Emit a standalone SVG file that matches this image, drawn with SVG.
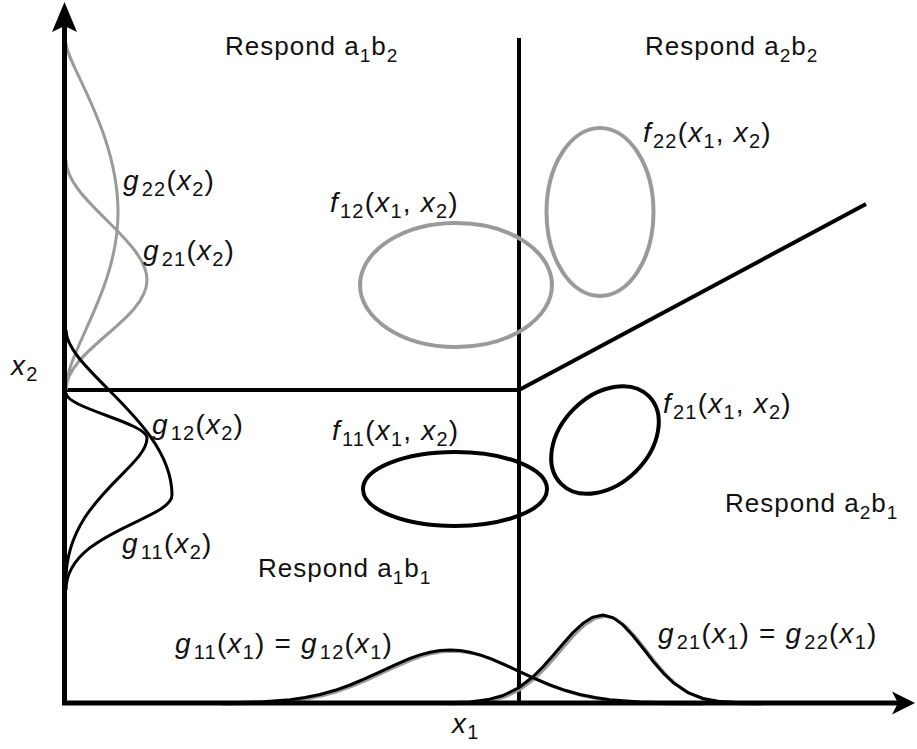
<svg xmlns="http://www.w3.org/2000/svg" width="917" height="749" viewBox="0 0 917 749">
<style>
text{font-family:"Liberation Sans",Arial,sans-serif;fill:#111}
.r{font-size:26px;letter-spacing:1px}
.m{font-size:28px;letter-spacing:1.2px}
.i{font-style:italic}
.s{font-size:20px}
.r .s{font-size:19px}
.ax{stroke:#000;stroke-width:5;fill:none}
.ln{stroke:#000;stroke-width:4;fill:none}
.k{stroke:#000;stroke-width:3;fill:none;stroke-linejoin:round}
.g{stroke:#9a9a9a;stroke-width:3;fill:none;stroke-linejoin:round}
.eg{stroke:#9a9a9a;stroke-width:4;fill:none}
.ek{stroke:#000;stroke-width:4;fill:none}
</style>
<rect width="917" height="749" fill="#fff"/>

<g id="connectors">
  <line class="ln" x1="519" y1="38" x2="519" y2="703"/>
  <line class="ln" x1="64" y1="390" x2="519" y2="390"/>
  <line class="ln" x1="519" y1="390" x2="866" y2="204" stroke-width="3.5"/>
</g>

<g id="dist-x2">
  <path class="g" d="M66,43 C66,63 118,132 118,212 C118,292 66,350 66,390"/>
  <path class="g" d="M66,160 C66,200 147,240 147,280 C147,320 66,350 66,390"/>
  <path class="k" d="M66,393 C66,408 147,423 147,438 C147,468 66,500 66,580"/>
  <path class="k" d="M66,330 C66,370 172,422 172,495 C172,520 66,532 66,590"/>
</g>

<g id="dist-x1">
  <g transform="translate(2.5,1.2)">
    <polyline class="g" points="220,703 230,702.7 260,701.9 290,699.7 305,697.5 320,694.5 335,690.3 350,685 365,678.7 380,671.8 395,664.8 410,658.4 420,654.9 430,652.2 440,650.6 450,650 460,650.6 470,652.2 480,654.9 490,658.4 505,664.8 520,671.8 535,678.7 550,685 565,690.3 580,694.5 595,697.5 610,699.7 640,701.9 670,702.7 700,703"/>
    <polyline class="g" points="445,702.8 470,701.9 488,699.6 503,695.5 518,688.2 533,676.8 543,666.8 553,655.5 563,643.7 573,632.5 583,623.3 593,617.1 603,615 613,617.6 623,624.9 633,635.7 643,648.3 653,661.2 663,672.8 673,682.5 688,692.7 703,698.5 718,701.3 738,702.6 760,703"/>
  </g>
  <polyline class="k" points="220,703 230,702.7 260,701.9 290,699.7 305,697.5 320,694.5 335,690.3 350,685 365,678.7 380,671.8 395,664.8 410,658.4 420,654.9 430,652.2 440,650.6 450,650 460,650.6 470,652.2 480,654.9 490,658.4 505,664.8 520,671.8 535,678.7 550,685 565,690.3 580,694.5 595,697.5 610,699.7 640,701.9 670,702.7 700,703"/>
  <polyline class="k" points="445,702.8 470,701.9 488,699.6 503,695.5 518,688.2 533,676.8 543,666.8 553,655.5 563,643.7 573,632.5 583,623.3 593,617.1 603,615 613,617.6 623,624.9 633,635.7 643,648.3 653,661.2 663,672.8 673,682.5 688,692.7 703,698.5 718,701.3 738,702.6 760,703"/>
</g>

<g id="axes">
  <line class="ax" x1="64.5" y1="26" x2="64.5" y2="705"/>
  <polygon points="64.5,2 77,32 64.5,26 52,32" fill="#000"/>
  <line class="ax" x1="62" y1="703" x2="900" y2="703"/>
  <polygon points="915,703 892,691.5 898,703 892,714.5" fill="#000"/>
</g>

<g id="f12"><ellipse class="eg" cx="456" cy="285" rx="96" ry="62"/>
  <text class="m" x="330" y="212"><tspan class="i">f</tspan><tspan class="s" dx="1" dy="6">12</tspan><tspan dy="-6">(</tspan><tspan class="i">x</tspan><tspan class="s" dy="6">1</tspan><tspan dy="-6">, </tspan><tspan class="i">x</tspan><tspan class="s" dy="6">2</tspan><tspan dy="-6">)</tspan></text></g>
<g id="f22"><ellipse class="eg" cx="600" cy="212" rx="53.5" ry="84"/>
  <text class="m" x="643" y="142"><tspan class="i">f</tspan><tspan class="s" dx="1" dy="6">22</tspan><tspan dy="-6">(</tspan><tspan class="i">x</tspan><tspan class="s" dy="6">1</tspan><tspan dy="-6">, </tspan><tspan class="i">x</tspan><tspan class="s" dy="6">2</tspan><tspan dy="-6">)</tspan></text></g>
<g id="f11"><ellipse class="ek" cx="455" cy="489" rx="92" ry="37"/>
  <text class="m" x="332" y="440"><tspan class="i">f</tspan><tspan class="s" dx="1" dy="6">11</tspan><tspan dy="-6">(</tspan><tspan class="i">x</tspan><tspan class="s" dy="6">1</tspan><tspan dy="-6">, </tspan><tspan class="i">x</tspan><tspan class="s" dy="6">2</tspan><tspan dy="-6">)</tspan></text></g>
<g id="f21"><ellipse class="ek" cx="0" cy="0" rx="62" ry="44" transform="translate(605,440) rotate(-45)"/>
  <text class="m" x="663" y="413"><tspan class="i">f</tspan><tspan class="s" dx="1" dy="6">21</tspan><tspan dy="-6">(</tspan><tspan class="i">x</tspan><tspan class="s" dy="6">1</tspan><tspan dy="-6">, </tspan><tspan class="i">x</tspan><tspan class="s" dy="6">2</tspan><tspan dy="-6">)</tspan></text></g>

<g id="labels">
  <text class="r" x="225" y="55">Respond a<tspan class="s" dy="7">1</tspan><tspan dy="-7">b</tspan><tspan class="s" dy="7">2</tspan></text>
  <text class="r" x="645" y="55">Respond a<tspan class="s" dy="7">2</tspan><tspan dy="-7">b</tspan><tspan class="s" dy="7">2</tspan></text>
  <text class="r" x="725" y="512">Respond a<tspan class="s" dy="7">2</tspan><tspan dy="-7">b</tspan><tspan class="s" dy="7">1</tspan></text>
  <text class="r" x="258" y="577">Respond a<tspan class="s" dy="7">1</tspan><tspan dy="-7">b</tspan><tspan class="s" dy="7">1</tspan></text>

  <text class="m" x="123" y="190"><tspan class="i">g</tspan><tspan class="s" dx="2" dy="6">22</tspan><tspan dy="-6">(</tspan><tspan class="i">x</tspan><tspan class="s" dy="6">2</tspan><tspan dy="-6">)</tspan></text>
  <text class="m" x="143" y="260"><tspan class="i">g</tspan><tspan class="s" dx="2" dy="6">21</tspan><tspan dy="-6">(</tspan><tspan class="i">x</tspan><tspan class="s" dy="6">2</tspan><tspan dy="-6">)</tspan></text>
  <text class="m" x="152" y="434"><tspan class="i">g</tspan><tspan class="s" dx="2" dy="6">12</tspan><tspan dy="-6">(</tspan><tspan class="i">x</tspan><tspan class="s" dy="6">2</tspan><tspan dy="-6">)</tspan></text>
  <text class="m" x="122" y="553"><tspan class="i">g</tspan><tspan class="s" dx="2" dy="6">11</tspan><tspan dy="-6">(</tspan><tspan class="i">x</tspan><tspan class="s" dy="6">2</tspan><tspan dy="-6">)</tspan></text>

  <text class="m" x="175" y="653"><tspan class="i">g</tspan><tspan class="s" dx="2" dy="6">11</tspan><tspan dy="-6">(</tspan><tspan class="i">x</tspan><tspan class="s" dy="6">1</tspan><tspan dy="-6">) = </tspan><tspan class="i">g</tspan><tspan class="s" dx="2" dy="6">12</tspan><tspan dy="-6">(</tspan><tspan class="i">x</tspan><tspan class="s" dy="6">1</tspan><tspan dy="-6">)</tspan></text>
  <text class="m" x="658" y="643"><tspan class="i">g</tspan><tspan class="s" dx="2" dy="6">21</tspan><tspan dy="-6">(</tspan><tspan class="i">x</tspan><tspan class="s" dy="6">1</tspan><tspan dy="-6">) = </tspan><tspan class="i">g</tspan><tspan class="s" dx="2" dy="6">22</tspan><tspan dy="-6">(</tspan><tspan class="i">x</tspan><tspan class="s" dy="6">1</tspan><tspan dy="-6">)</tspan></text>

  <text class="m" x="11" y="375"><tspan class="i">x</tspan><tspan class="s" dy="6">2</tspan></text>
  <text class="m" x="452" y="733"><tspan class="i">x</tspan><tspan class="s" dy="6">1</tspan></text>
</g>
</svg>
